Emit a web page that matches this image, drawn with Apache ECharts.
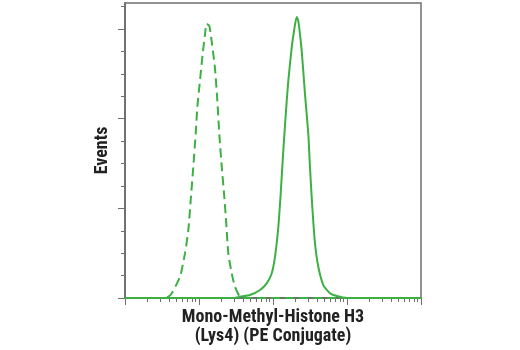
<!DOCTYPE html>
<html>
<head>
<meta charset="utf-8">
<script src="https://cdn.jsdelivr.net/npm/echarts@6/dist/echarts.min.js"></script>
<style>
  html, body { margin: 0; padding: 0; background: #fff; }
  #chart { width: 520px; height: 350px; }
</style>
</head>
<body>
<div id="chart"></div>
<script>
// Fluorescence intensity (log scale) and event counts for each histogram.
const isotypeIntensity = [1, 3.0, 3.85, 4.28, 5.54, 6.47, 7.17, 7.72, 8.37, 9.02, 9.49, 10.3, 11.2, 12.05, 12.7,
  13.8, 14.8, 16.4, 17.7, 18.8, 20.3, 21.8, 23.2, 24.9, 27.7, 30.6, 35.8, 45, 10000];
const isotypeEvents = [0, 0, 1.4, 5.2, 23.7, 50, 75.6, 108.9, 145.9, 183, 212.6, 242.2, 271.9, 294.1, 305.9,
  303.3, 286.7, 257, 220, 183, 145.9, 116.3, 86.7, 49.7, 27.4, 12.6, 1.4, 0, 0];

const stainedIntensity = [1, 30, 35.8, 48.9, 66.7, 82.2, 96.0, 106.4, 118, 127, 137.8, 149.9, 161, 179, 192.3,
  209, 219.8, 244.3, 270.5, 299.9, 316, 339.6, 369.6, 409.6, 478.6, 589, 725.6, 991, 10000];
const stainedEvents = [0, 0, 1.4, 3.3, 8.9, 16.3, 27.4, 45.9, 79.2, 116.3, 164.4, 208.9, 242.2, 279.3, 297.8,
  313.3, 308.9, 275.6, 227.4, 183, 145.9, 101.5, 60.8, 34.8, 14.4, 5.2, 2.2, 0, 0];

// Axis tick positions (no tick labels are shown).
const xMajorTicks = [1, 10, 100, 1000, 10000];
const xMinorTicks = [];
for (const decade of [1, 10, 100, 1000]) {
  for (let m = 2; m <= 9; m++) xMinorTicks.push(decade * m);
}
const yMajorTicks = [0, 100, 200, 300];
const yMinorTicks = [];
for (let v = 25; v <= 325; v += 25) if (v % 100 !== 0) yMinorTicks.push(v);

const xTitle = 'Mono-Methyl-Histone H3\n(Lys4) (PE Conjugate)';
const yTitle = 'Events';

const green = '#3cb043';
const axisGrey = '#6f6f6f';
const titleFont = {
  fontFamily: '"Liberation Sans Narrow", "Roboto Condensed", Roboto, "Liberation Sans", Arial, sans-serif',
  fontWeight: 'bold',
  fontSize: 18,
  color: '#222'
};

const chart = echarts.init(document.getElementById('chart'), null, { renderer: 'canvas' });

const baseX = {
  type: 'log',
  logBase: 10,
  min: 1,
  max: 10000,
  position: 'bottom',
  offset: 0,
  splitLine: { show: false },
  axisLabel: { show: false },
  axisLine: { show: true, lineStyle: { color: axisGrey, width: 1.5 } }
};
const baseY = {
  type: 'value',
  min: 0,
  max: 329,
  position: 'left',
  offset: 0,
  splitLine: { show: false },
  axisLabel: { show: false },
  axisLine: { show: true, lineStyle: { color: axisGrey, width: 1.5 } }
};

chart.setOption({
  animation: false,
  grid: {
    left: 125, right: 99, top: 3, bottom: 52,
    containLabel: false,
    outerBoundsMode: 'none',
    show: true, borderColor: axisGrey, borderWidth: 1.5, backgroundColor: 'transparent'
  },
  xAxis: [
    Object.assign({}, baseX, {
      axisTick: { show: true, customValues: xMinorTicks, length: 4, lineStyle: { color: axisGrey, width: 1 } },
      name: xTitle,
      nameLocation: 'middle',
      nameGap: 10,
      nameTextStyle: Object.assign({}, titleFont, { lineHeight: 19, verticalAlign: 'top' })
    }),
    Object.assign({}, baseX, {
      axisTick: { show: true, customValues: xMajorTicks, length: 7, lineStyle: { color: axisGrey, width: 1 } }
    })
  ],
  yAxis: [
    Object.assign({}, baseY, {
      axisTick: { show: true, customValues: yMinorTicks, length: 4, lineStyle: { color: axisGrey, width: 1 } },
      name: yTitle,
      nameLocation: 'middle',
      nameGap: 14,
      nameTextStyle: titleFont
    }),
    Object.assign({}, baseY, {
      axisTick: { show: true, customValues: yMajorTicks, length: 7, lineStyle: { color: axisGrey, width: 1 } }
    })
  ],
  series: [
    {
      name: 'Isotype control',
      type: 'line',
      xAxisIndex: 0,
      yAxisIndex: 0,
      showSymbol: false,
      smooth: 0.2,
      data: isotypeIntensity.map((x, i) => [x, isotypeEvents[i]]),
      lineStyle: { color: green, width: 2, type: [9, 5] },
      z: 3
    },
    {
      name: 'Mono-Methyl-Histone H3 (Lys4)',
      type: 'line',
      xAxisIndex: 0,
      yAxisIndex: 0,
      showSymbol: false,
      smooth: 0.2,
      data: stainedIntensity.map((x, i) => [x, stainedEvents[i]]),
      lineStyle: { color: green, width: 2 },
      z: 4
    }
  ]
});
</script>
</body>
</html>
